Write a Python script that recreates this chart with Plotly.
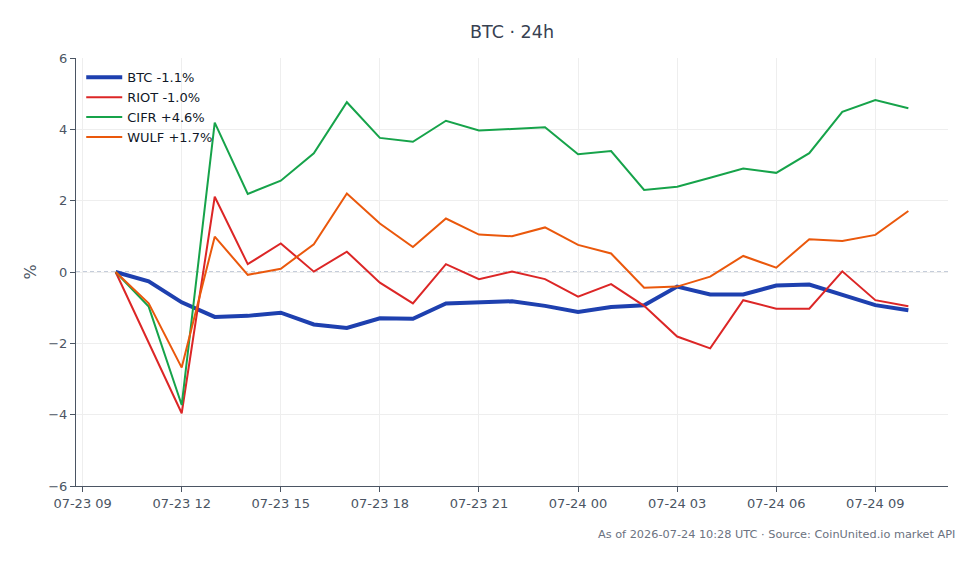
import pandas as pd
import plotly.graph_objects as go

times = pd.date_range("2026-07-23 10:00", "2026-07-24 10:00", freq="h")

btc = [0, -0.26, -0.85, -1.26, -1.23, -1.14, -1.47, -1.57, -1.30, -1.31, -0.88, -0.84, -0.82,
       -0.95, -1.12, -0.98, -0.93, -0.41, -0.63, -0.63, -0.38, -0.35, -0.65, -0.93, -1.07]
riot = [0, -2.0, -3.96, 2.11, 0.22, 0.80, 0.01, 0.57, -0.30, -0.88, 0.22, -0.20, 0.01,
        -0.20, -0.69, -0.34, -0.95, -1.81, -2.14, -0.79, -1.03, -1.03, 0.02, -0.79, -0.96]
cifr = [0, -0.97, -3.73, 4.19, 2.19, 2.56, 3.33, 4.76, 3.76, 3.65, 4.24, 3.97, 4.01,
        4.06, 3.30, 3.39, 2.30, 2.39, 2.64, 2.90, 2.78, 3.33, 4.49, 4.82, 4.59]
wulf = [0, -0.88, -2.68, 0.99, -0.08, 0.09, 0.78, 2.20, 1.36, 0.70, 1.50, 1.05, 1.00,
        1.25, 0.76, 0.52, -0.44, -0.41, -0.13, 0.45, 0.12, 0.92, 0.87, 1.04, 1.71]

series = [
    ("BTC -1.1%", btc, "#1e40af", 4),
    ("RIOT -1.0%", riot, "#dc2626", 2),
    ("CIFR +4.6%", cifr, "#16a34a", 2),
    ("WULF +1.7%", wulf, "#ea580c", 2),
]

title_text = "BTC · 24h"
footer_text = "As of 2026-07-24 10:28 UTC · Source: CoinUnited.io market API"
y_ticks = [-6, -4, -2, 0, 2, 4, 6]

fig = go.Figure()
fig.add_shape(type="line", xref="paper", x0=0, x1=1, yref="y", y0=0, y1=0,
              line=dict(color="#8a9bb5", width=1, dash="4px,3px"), layer="between")
for name, vals, color, w in series:
    fig.add_trace(go.Scatter(x=times, y=vals, mode="lines", name=name,
                             line=dict(color=color, width=w)))

span = times[-1] - times[0]
xr = [times[0] - span * 0.05, times[-1] + span * 0.05]

axis_col = "#4b5563"
fig.update_layout(
    width=980, height=564,
    paper_bgcolor="white", plot_bgcolor="white",
    font=dict(family="DejaVu Sans", size=13, color=axis_col),
    margin=dict(l=76, r=32, t=58, b=78),
    title=dict(text=title_text, x=0.5, xref="paper", xanchor="center",
               y=1 - 32 / 564, yref="container", yanchor="middle",
               font=dict(size=17.5, color="#374151")),
    showlegend=True,
    legend=dict(x=0.006, y=0.990, xanchor="left", yanchor="top", itemwidth=36,
                bgcolor="rgba(255,255,255,0)", font=dict(size=13, color="#111827"),
                tracegroupgap=0),
    xaxis=dict(type="date", range=xr, tickformat="%m-%d %H", dtick=3 * 3600 * 1000,
               tick0="2026-07-23 00:00", showgrid=True, gridcolor="#eeeeee",
               showline=True, linecolor=axis_col, linewidth=1, ticks="outside",
               ticklen=5, tickcolor=axis_col, zeroline=False),
    yaxis=dict(range=[-6, 6], tickvals=y_ticks, showgrid=True, gridcolor="#eeeeee",
               showline=True, linecolor=axis_col, linewidth=1, ticks="outside",
               ticklen=5, tickcolor=axis_col, zeroline=False,
               title=dict(text="%", standoff=7)),
    annotations=[dict(text=footer_text, xref="paper", yref="paper", x=1 + 9 / 872,
                      y=-48 / 428, xanchor="right", yanchor="middle", showarrow=False,
                      font=dict(size=11.3, color="#6b7280"))],
)

fig.write_html("out.html")
